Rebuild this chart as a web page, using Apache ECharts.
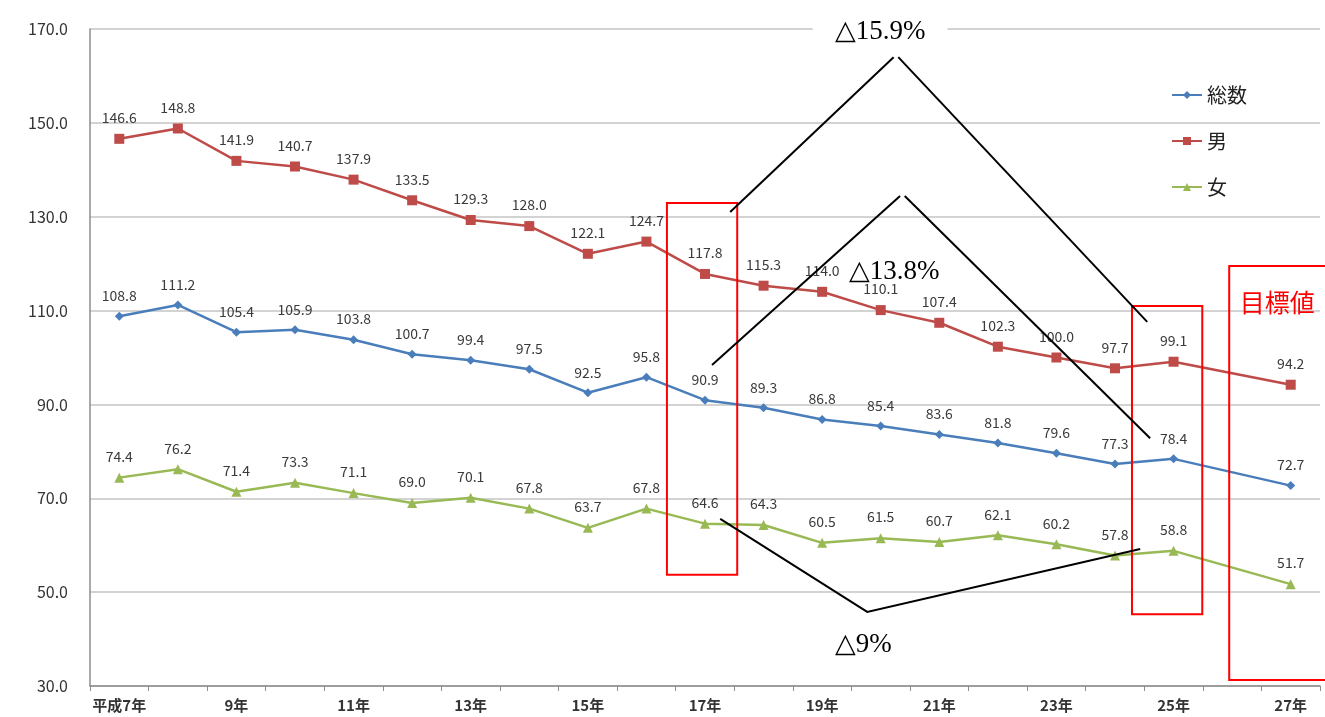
<!DOCTYPE html>
<html>
<head>
<meta charset="utf-8">
<script src="https://cdn.jsdelivr.net/npm/echarts@6/dist/echarts.min.js"></script>
<style>
  html, body { margin: 0; padding: 0; background: #fff; }
  #chart { width: 1325px; height: 717px; }
</style>
</head>
<body>
<div id="chart"></div>
<script>
// 年次（平成7年〜27年、26年は値なし）
const categories = ['平成7年','8年','9年','10年','11年','12年','13年','14年','15年','16年','17年',
  '18年','19年','20年','21年','22年','23年','24年','25年','26年','27年'];

const totalValues = [108.8,111.2,105.4,105.9,103.8,100.7,99.4,97.5,92.5,95.8,90.9,
  89.3,86.8,85.4,83.6,81.8,79.6,77.3,78.4,null,72.7];
const maleValues = [146.6,148.8,141.9,140.7,137.9,133.5,129.3,128.0,122.1,124.7,117.8,
  115.3,114.0,110.1,107.4,102.3,100.0,97.7,99.1,null,94.2];
const femaleValues = [74.4,76.2,71.4,73.3,71.1,69.0,70.1,67.8,63.7,67.8,64.6,
  64.3,60.5,61.5,60.7,62.1,60.2,57.8,58.8,null,51.7];

const seriesNames = ['総数','男','女'];
const yTicks = { min: 30, max: 170, interval: 20 };

// 減少率の注記（データ座標：[カテゴリ位置（小数可）, 値]）
const notes = [
  { text: '△15.9%', at: [12.99, 169.4], masked: true },
  { text: '△13.8%', at: [13.23, 118.2], masked: false },
  { text: '△9%',    at: [12.70, 38.7],  masked: false }
];
const noteLines = [
  [[10.43, 131.0], [13.22, 164.0]],
  [[13.30, 164.0], [17.55, 107.6]],
  [[10.12, 98.4], [13.33, 134.4]],
  [[13.41, 134.4], [17.60, 82.8]],
  [[10.26, 65.6], [12.77, 45.8], [17.43, 59.2]]
];
const highlightBoxes = [
  [[9.35, 132.9], [10.55, 53.7]],
  [[17.29, 111.0], [18.49, 45.3]],
  [[18.95, 119.5], [22.0, 31.3]]
];
const targetLabel = { text: '目標値', at: [19.77, 111.8] };

const chart = echarts.init(document.getElementById('chart'), null, { renderer: 'canvas' });

function makeSeries(name, values, color, symbol, size) {
  return {
    name: name,
    type: 'line',
    data: values,
    connectNulls: true,
    symbol: symbol,
    symbolSize: size,
    lineStyle: { color: color, width: 2.5 },
    itemStyle: { color: color },
    label: {
      show: true,
      position: 'top',
      distance: 9,
      color: '#3a3a3a',
      fontSize: 14,
      fontFamily: 'Noto Sans CJK JP',
      formatter: p => p.value == null ? '' : Number(p.value).toFixed(1)
    },
    emphasis: { disabled: true },
    animation: false
  };
}

chart.setOption({
  animation: false,
  backgroundColor: '#fff',
  grid: { left: 90, right: 5, top: 29, bottom: 31, containLabel: false },
  legend: {
    orient: 'vertical',
    left: 1166,
    top: 80,
    itemGap: 26,
    itemWidth: 30,
    itemHeight: 10,
    textStyle: { fontSize: 20, color: '#222', fontFamily: 'Noto Sans CJK JP' },
    data: seriesNames
  },
  xAxis: {
    type: 'category',
    data: categories,
    boundaryGap: true,
    axisLine: { lineStyle: { color: '#8c8c8c', width: 1.5 } },
    axisTick: { show: true, interval: 0, length: 5, lineStyle: { color: '#8c8c8c' } },
    axisLabel: {
      interval: 1,
      color: '#333',
      fontSize: 15,
      fontWeight: 'bold',
      fontFamily: 'Noto Sans CJK JP',
      margin: 12
    },
    splitLine: { show: false }
  },
  yAxis: {
    type: 'value',
    min: yTicks.min,
    max: yTicks.max,
    interval: yTicks.interval,
    axisLine: { show: true, lineStyle: { color: '#8c8c8c', width: 1.5 } },
    axisTick: { show: false },
    axisLabel: {
      color: '#333',
      fontSize: 16,
      fontFamily: 'Noto Sans CJK JP',
      margin: 22,
      formatter: v => v.toFixed(1)
    },
    splitLine: { show: true, lineStyle: { color: '#c4c4c4', width: 1.5 } }
  },
  series: [
    makeSeries(seriesNames[0], totalValues, '#4a7ebb', 'diamond', 9),
    makeSeries(seriesNames[1], maleValues, '#be4b48', 'rect', 10),
    makeSeries(seriesNames[2], femaleValues, '#98b954', 'triangle', 10)
  ]
});

// 注記をデータ座標からピクセル位置に変換して描く（カテゴリ位置は小数で補間）
const c0 = chart.convertToPixel({ gridIndex: 0 }, [0, yTicks.min]);
const c1 = chart.convertToPixel({ gridIndex: 0 }, [1, yTicks.min]);
const step = c1[0] - c0[0];
const toPx = pt => {
  const y = chart.convertToPixel({ yAxisIndex: 0 }, pt[1]);
  return [c0[0] + pt[0] * step, y];
};
const graphics = [];

highlightBoxes.forEach(b => {
  const p1 = toPx(b[0]), p2 = toPx(b[1]);
  graphics.push({
    type: 'rect',
    shape: { x: p1[0], y: p1[1], width: p2[0] - p1[0], height: p2[1] - p1[1] },
    style: { fill: 'none', stroke: '#ff0000', lineWidth: 2 },
    z: 10
  });
});

noteLines.forEach(l => {
  graphics.push({
    type: 'polyline',
    shape: { points: l.map(toPx) },
    style: { fill: 'none', stroke: '#000', lineWidth: 2 },
    z: 11
  });
});

notes.forEach(n => {
  const p = toPx(n.at);
  const style = {
    text: n.text,
    fontSize: 27,
    fontFamily: 'Liberation Serif',
    fill: '#000',
    align: 'center',
    verticalAlign: 'middle'
  };
  if (n.masked) {
    style.backgroundColor = '#fff';
    style.padding = [2, 22];
  }
  graphics.push({ type: 'text', x: p[0], y: p[1], style: style, z: 12 });
});

const tp = toPx(targetLabel.at);
graphics.push({
  type: 'text',
  x: tp[0], y: tp[1],
  style: {
    text: targetLabel.text,
    fontSize: 25,
    fontFamily: 'Noto Sans CJK JP',
    fill: '#ff0000',
    align: 'center',
    verticalAlign: 'middle'
  },
  z: 12
});

chart.setOption({ graphic: graphics });
</script>
</body>
</html>
